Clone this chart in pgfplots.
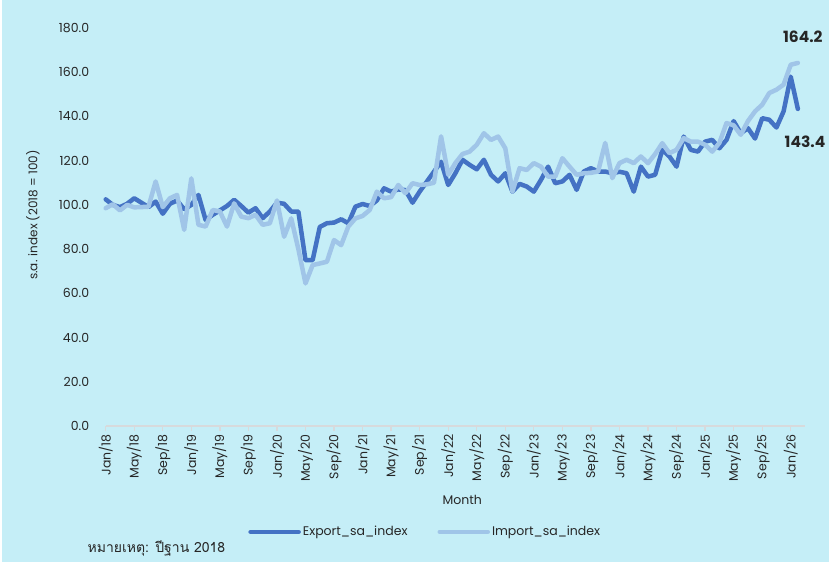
\documentclass[border=0pt]{standalone}
\usepackage{fontspec}
\setmainfont{Poppins}
\newfontfamily\thaifont[Script=Thai]{Loma}
\usepackage{pgfplots}
\pgfplotsset{compat=1.18}
\usepackage{pgfplotstable}
\definecolor{bgc}{RGB}{197,238,247}
\definecolor{expc}{RGB}{68,114,196}
\definecolor{impc}{RGB}{160,197,232}
\definecolor{axc}{RGB}{215,218,220}

\pgfplotstableread{
i exp imp
0 102.5 98.5
1 100 100.3
2 99 97.5
3 100.5 100
4 103 98.9
5 101 99
6 99 99.2
7 101.5 110.6
8 96 99
9 100.5 103
10 102 104.5
11 98 88.7
12 100 112
13 104.5 91
14 93.2 90.2
15 95.5 97.7
16 97.5 97
17 99.5 90.2
18 102.3 100.7
19 99.5 94.7
20 96.5 94
21 98.5 95.5
22 94 91
23 97 91.7
24 101 102
25 100.5 85.6
26 97 93.9
27 97 80
28 75 64.5
29 75 72.8
30 90 73.5
31 91.7 74.3
32 92 84.1
33 93.5 81.8
34 91.7 90.2
35 99.2 93.9
36 100.4 95
37 99.5 97.7
38 102 106
39 107.5 103
40 106 103.5
41 107 109
42 106.7 105.3
43 101 109.8
44 106 109
45 110.5 109.3
46 115 110
47 119.5 131
48 109 113.6
49 114.3 118.9
50 120.4 123
51 118.1 124.1
52 116.1 127.2
53 120.4 132.4
54 113.6 129.4
55 110.6 130.9
56 114.3 125.6
57 106 106
58 109.5 116.6
59 108.3 115.8
60 106 118.9
61 111.3 117.3
62 117.3 112.8
63 109.8 112.8
64 110.6 121.1
65 113.6 117.3
66 106.8 113.6
67 115.1 114.3
68 116.6 114.5
69 115.1 115.1
70 115.1 128
71 114.3 112.1
72 115 118.9
73 114.3 120.4
74 106 118.9
75 117.3 121.9
76 112.8 118.9
77 113.6 123
78 124.9 127.9
79 121.9 123.4
80 117.3 124.9
81 130.9 130.2
82 124.9 128.6
83 124.1 128.6
84 128.6 127.2
85 129.4 124.1
86 125.6 128
87 129.4 137
88 137.9 136
89 132.4 131.7
90 134.7 137.9
91 130 142.3
92 139.2 145.3
93 138.5 150.6
94 135 152.1
95 142.3 154.4
96 158 163.4
97 143.4 164.2
}\datatable

\begin{document}
\begin{tikzpicture}
\fill[bgc] (-105.7pt,-136pt) rectangle (723.3pt,426pt);
\fill[white] (-105.7pt,-136pt) rectangle (-103.2pt,426pt);
\begin{axis}[
  scale only axis, width=699.3pt, height=398pt,
  xmin=0, xmax=98, ymin=0, ymax=180,
  clip=false,
  axis x line*=bottom, axis y line*=left,
  x axis line style={-, draw=axc, line width=1.6pt},
  y axis line style={draw=none},
  xtick={0,4,...,96},
  xticklabels={Jan/18,May/18,Sep/18,Jan/19,May/19,Sep/19,Jan/20,May/20,Sep/20,Jan/21,May/21,Sep/21,Jan/22,May/22,Sep/22,Jan/23,May/23,Sep/23,Jan/24,May/24,Sep/24,Jan/25,May/25,Sep/25,Jan/26},
  xticklabel style={rotate=90, anchor=east, font=\fontsize{12.5}{14}\selectfont, text=black!85},
  xtick style={draw=axc, line width=1.3pt},
  tick align=outside,
  major tick length=5pt,
  ytick={0,20,...,180},
  ytick style={draw=none},
  yticklabel={\pgfmathprintnumber[fixed,fixed zerofill,precision=1]{\tick}},
  yticklabel style={font=\fontsize{12.5}{14}\selectfont, text=black!85, xshift=-8pt},
  /pgf/number format/assume math mode=true,
  xlabel={Month},
  ylabel={s.a. index (2018 = 100)},
  every axis x label/.style={at={(axis description cs:0.51,-0.186)}, anchor=center, font=\fontsize{12.5}{14}\selectfont, text=black!85},
  every axis y label/.style={at={(axis description cs:-0.104,0.53)}, rotate=90, anchor=center, font=\fontsize{12}{14}\selectfont, text=black!85},
  legend columns=2,
  legend style={at={(axis description cs:0.457,-0.266)}, anchor=center, draw=none, fill=none,
    font=\fontsize{12.5}{14}\selectfont, text=black!85,
    /tikz/every even column/.append style={column sep=28pt}},
  legend image code/.code={\draw[#1, line width=4.5pt, line cap=round] (0pt,0pt) -- (48pt,0pt);},
]
\addplot[expc, line width=4.5pt, line join=round, line cap=round] table[x=i, y=exp] {\datatable};
\addlegendentry{Export\_sa\_index}
\addplot[impc, line width=4.5pt, line join=round, line cap=round] table[x=i, y=imp] {\datatable};
\addlegendentry{Import\_sa\_index}
\node[font=\bfseries\fontsize{15.5}{17}\selectfont, text=black!85] at (axis cs:97.7,176) {164.2};
\node[font=\bfseries\fontsize{15.5}{17}\selectfont, text=black!85] at (axis cs:98,128.5) {143.4};
\node[anchor=west, font=\thaifont\fontsize{14}{16}\selectfont, text=black!85] at (axis description cs:-0.031,-0.307) {หมายเหตุ: ปีฐาน 2018};
\end{axis}
\pgfresetboundingbox
\useasboundingbox (-105.7pt,-136pt) rectangle (723.3pt,426pt);
\end{tikzpicture}
\end{document}
